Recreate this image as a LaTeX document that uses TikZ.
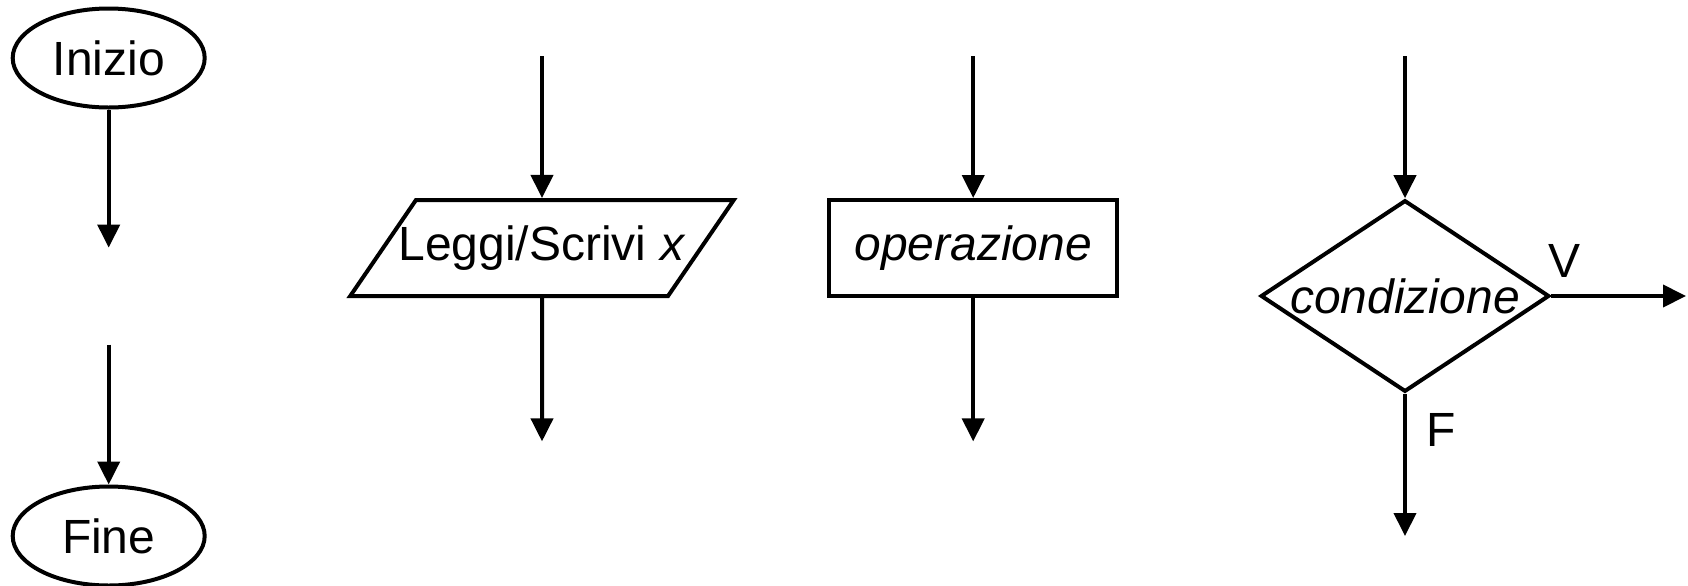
\documentclass[tikz,border=0pt]{standalone}
\usepackage{fontspec}
\setmainfont{Liberation Sans}
\usetikzlibrary{positioning,shapes.geometric,arrows.meta}

\begin{document}
\begin{tikzpicture}[
  x=0.5pt,y=-0.5pt,
  line width=2pt,
  every node/.style={font=\fontsize{24}{28}\selectfont},
  flow/.style={-{Triangle[length=11.5pt,width=11pt]}},
  terminal/.style={draw,ellipse,inner sep=0pt,minimum width=96pt,minimum height=49.5pt},
  iobox/.style={draw,trapezium,trapezium left angle=55.6,trapezium right angle=124.4,text height=17pt,text depth=5pt,inner ysep=13pt,inner xsep=-8.7pt},
  opbox/.style={draw,rectangle,inner sep=0pt,minimum width=144pt,minimum height=48pt},
  testbox/.style={draw,diamond,aspect=1.506,inner sep=0pt,minimum width=144.3pt,minimum height=95.8pt}
]
\useasboundingbox (0,0) rectangle (1688,585);

% Inizio / Fine
\node[terminal] (start) at (108.7,58) {Inizio};
\node[terminal] (stop) at (108.7,536) {Fine};
\coordinate (startOut) at (108.7,247.6);
\coordinate (stopIn) at (108.7,344.5);
\draw[flow] (start) -- (startOut);
\draw[flow] (stopIn) -- (stop);

% Leggi/Scrivi
\node[iobox] (io) at (542,248) {Leggi/Scrivi \textit{x}};
\coordinate (ioIn) at (542,56);
\coordinate (ioOut) at (542,441.4);
\draw[flow] (ioIn) -- (io);
\draw[flow] (io) -- (ioOut);

% operazione
\node[opbox] (op) at (973.2,248) {\textit{operazione}};
\coordinate (opIn) at (973.2,56);
\coordinate (opOut) at (973.2,441.4);
\draw[flow] (opIn) -- (op);
\draw[flow] (op) -- (opOut);

% condizione
\node[testbox] (test) at (1405,296) {\textit{condizione}};
\coordinate (testIn) at (1405,56);
\coordinate (testTrue) at (1686,296);
\coordinate (testFalse) at (1405,536);
\draw[flow] (testIn) -- (test);
\draw[flow] (test) -- (testTrue);
\draw[flow] (test) -- (testFalse);
\node (labV) at (1564,261) {V};
\node (labF) at (1441,430) {F};
\end{tikzpicture}
\end{document}
